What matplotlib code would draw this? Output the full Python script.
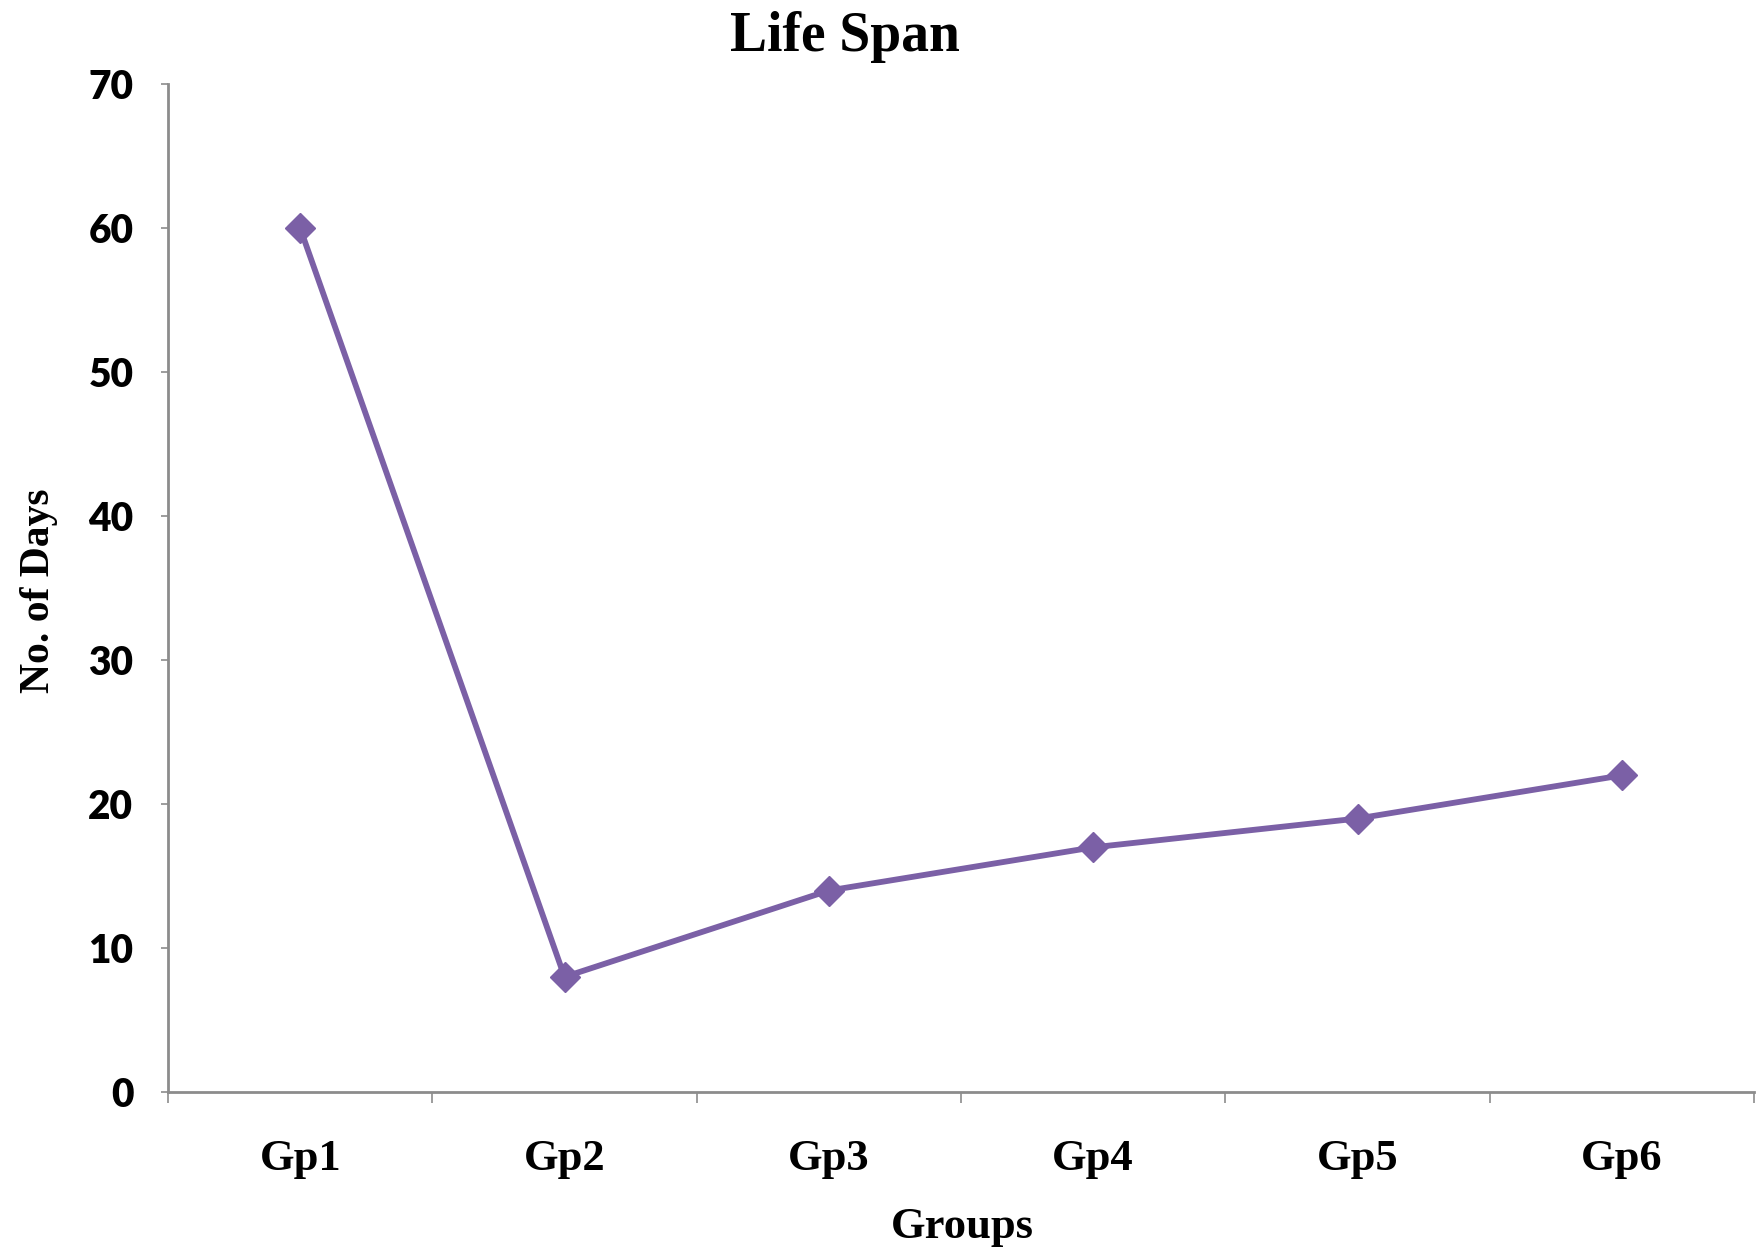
import matplotlib
matplotlib.use('Agg')
import matplotlib.pyplot as plt
import numpy as np

# Data
groups = ['Gp1', 'Gp2', 'Gp3', 'Gp4', 'Gp5', 'Gp6']
days = [60, 8, 14, 17, 19, 22]

purple = '#7B60A6'
axis_grey = '#8C8C8C'
serif = 'Liberation Serif'

fig = plt.figure(figsize=(17.65, 12.59), dpi=100)
ax = fig.add_axes([0.0952, 0.1326, 0.8986, 0.8004])

x = np.arange(len(groups))
ax.plot(x, days, color=purple, linewidth=4.2, marker='D', markersize=15,
        markerfacecolor=purple, markeredgecolor=purple)

ax.set_xlim(-0.5, len(groups) - 0.5)
ax.set_ylim(0, 70)
ax.set_yticks(range(0, 71, 10))

# Category labels at centers, tick marks at boundaries
ax.set_xticks(x)
ax.set_xticklabels(groups, fontfamily=serif, fontweight='bold', fontsize=32)
ax.set_xticks(np.arange(-0.5, len(groups), 1.0), minor=True)
ax.tick_params(axis='x', which='major', length=0, pad=34)
ax.tick_params(axis='x', which='minor', length=8, width=1.2, color=axis_grey,
               direction='out')
ax.tick_params(axis='y', length=5, width=1.2, color=axis_grey, pad=20,
               direction='out')
for lab in ax.get_yticklabels():
    lab.set_fontfamily('Lato')
    lab.set_fontweight('heavy')
    lab.set_fontsize(28)

for side in ['top', 'right']:
    ax.spines[side].set_visible(False)
for side in ['left', 'bottom']:
    ax.spines[side].set_color(axis_grey)
    ax.spines[side].set_linewidth(2)

# Title and axis labels
fig.text(0.479, 0.9595, 'Life Span', ha='center', va='baseline',
         fontfamily=serif, fontweight='bold', fontsize=40)
fig.text(0.545, 0.0167, 'Groups', ha='center', va='baseline',
         fontfamily=serif, fontweight='bold', fontsize=32)
fig.text(0.022, 0.5306, 'No. of Days', ha='center', va='center',
         rotation=90, fontfamily=serif, fontweight='bold', fontsize=30)

fig.savefig('out.png', dpi=100, facecolor='white')
